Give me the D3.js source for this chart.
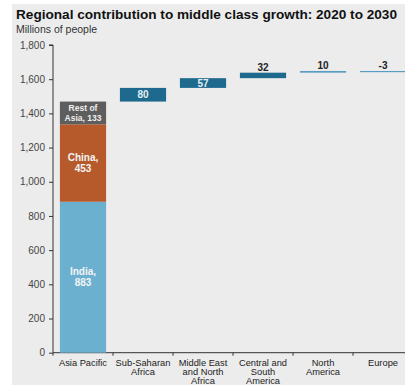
<!DOCTYPE html>
<html>
<head>
<meta charset="utf-8">
<script src="https://cdn.jsdelivr.net/npm/d3@7"></script>
<style>
  html, body { margin: 0; padding: 0; background: #fff; }
  svg { display: block; }
</style>
</head>
<body>
<svg id="chart" width="405" height="385"></svg>
<script>
// Regions along the x axis (multi-line labels)
const regions = ["Asia Pacific", "Sub-Saharan Africa", "Middle East and North Africa", "Central and South America", "North America", "Europe"];
const regionLines = [["Asia Pacific"], ["Sub-Saharan", "Africa"], ["Middle East", "and North", "Africa"], ["Central and", "South", "America"], ["North", "America"], ["Europe"]];

// Asia Pacific stacked components
const asiaParts = ["India", "China", "Rest of Asia"];
const asiaValues = [883, 453, 133];
const asiaLabels = [["India,", "883"], ["China,", "453"], ["Rest of", "Asia, 133"]];

// Increments for the remaining regions (waterfall)
const otherRegions = ["Sub-Saharan Africa", "Middle East and North Africa", "Central and South America", "North America", "Europe"];
const otherValues = [80, 57, 32, 10, -3];

const yTicks = [0, 200, 400, 600, 800, 1000, 1200, 1400, 1600, 1800];

const svg = d3.select("#chart");
const W = 405, H = 385;

// panel background
svg.append("rect").attr("x", 12).attr("y", 4).attr("width", W - 12).attr("height", H - 4).attr("fill", "#ececec");

const fontFamily = "Liberation Sans, Arial, sans-serif";

// Title and subtitle
svg.append("text")
  .attr("x", 16).attr("y", 19)
  .attr("font-family", fontFamily).attr("font-weight", "bold").attr("font-size", 13)
  .attr("fill", "#111")
  .attr("textLength", 381).attr("lengthAdjust", "spacingAndGlyphs")
  .text("Regional contribution to middle class growth: 2020 to 2030");
svg.append("text")
  .attr("x", 16).attr("y", 33)
  .attr("font-family", fontFamily).attr("font-size", 10.5)
  .attr("fill", "#333")
  .text("Millions of people");

const x0 = 53, xStep = 60;
const x = d3.scaleBand().domain(regions).range([x0, x0 + xStep * regions.length]).paddingInner(0.23).paddingOuter(0.115);
const y = d3.scaleLinear().domain([0, 1800]).range([352.7, 45]);

// y axis
const yAxis = svg.append("g").attr("transform", `translate(${x0},0)`)
  .call(d3.axisLeft(y).tickValues(yTicks).tickSize(4).tickPadding(4).tickFormat(d3.format(",")));
yAxis.select(".domain").attr("stroke", "#333").attr("d", `M-4,${y(1800)}H0V${y(0)}`);
yAxis.selectAll(".tick line").attr("stroke", "#333");
yAxis.selectAll(".tick text").attr("font-family", fontFamily).attr("font-size", 10).attr("fill", "#444");

// x axis
const xAxisG = svg.append("g").attr("transform", `translate(0,${y(0)})`);
xAxisG.append("line").attr("x1", x0).attr("x2", x0 + xStep * regions.length).attr("y1", 0).attr("y2", 0).attr("stroke", "#333");
xAxisG.selectAll("line.tk").data(d3.range(regions.length + 1)).join("line")
  .attr("class", "tk")
  .attr("x1", i => x0 + i * xStep).attr("x2", i => x0 + i * xStep)
  .attr("y1", 0).attr("y2", 3).attr("stroke", "#333");
regions.forEach((r, i) => {
  const t = xAxisG.append("text")
    .attr("x", x(r) + x.bandwidth() / 2)
    .attr("y", 13)
    .attr("text-anchor", "middle")
    .attr("font-family", fontFamily).attr("font-size", 9.3).attr("fill", "#222");
  regionLines[i].forEach((ln, j) => {
    t.append("tspan").attr("x", x(r) + x.bandwidth() / 2).attr("dy", j === 0 ? 0 : 9.3).text(ln);
  });
});

// Asia Pacific stacked bar
const asiaColors = ["#6cb0d0", "#b65a2b", "#5e5e5e"];
let cum = 0;
const asiaStack = asiaValues.map((v, i) => { const s = { name: asiaParts[i], v, y0: cum, y1: cum + v, c: asiaColors[i], label: asiaLabels[i] }; cum += v; return s; });
const asiaTotal = cum;

svg.append("g").selectAll("rect").data(asiaStack).join("rect")
  .attr("x", x("Asia Pacific")).attr("width", x.bandwidth())
  .attr("y", d => y(d.y1)).attr("height", d => y(d.y0) - y(d.y1))
  .attr("fill", d => d.c);

const labelSize = [10, 10, 8.5];
asiaStack.forEach((d, i) => {
  const cx = x("Asia Pacific") + x.bandwidth() / 2;
  const midY = (y(d.y0) + y(d.y1)) / 2;
  const lh = labelSize[i] + 1.5;
  const t = svg.append("text")
    .attr("text-anchor", "middle")
    .attr("font-family", fontFamily).attr("font-weight", "bold").attr("font-size", labelSize[i])
    .attr("fill", i === 2 ? "#f0f0f0" : "#f4f4f4");
  d.label.forEach((ln, j) => {
    t.append("tspan").attr("x", cx).attr("y", midY - lh / 2 + j * lh + labelSize[i] * 0.35).text(ln);
  });
});

// Waterfall bars for other regions
let run = asiaTotal;
const steps = otherValues.map((v, i) => { const s = { region: otherRegions[i], v, from: run, to: run + v }; run += v; return s; });
const barColor = "#1e6a8f";
const thinColor = "#5b9dc2";

steps.forEach(d => {
  const top = y(Math.max(d.from, d.to));
  const bot = y(Math.min(d.from, d.to));
  const h = Math.max(bot - top, 1.2);
  const small = Math.abs(d.v) < 20;
  svg.append("rect")
    .attr("x", x(d.region)).attr("width", x.bandwidth())
    .attr("y", top).attr("height", h)
    .attr("fill", small ? thinColor : barColor);
  const cx = x(d.region) + x.bandwidth() / 2;
  const inside = Math.abs(d.v) >= 50;
  svg.append("text")
    .attr("x", cx)
    .attr("y", inside ? (top + bot) / 2 + 3.5 : top - 2)
    .attr("text-anchor", "middle")
    .attr("font-family", fontFamily).attr("font-weight", "bold").attr("font-size", 10)
    .attr("fill", inside ? "#e8eef2" : "#222")
    .text(String(d.v));
});
</script>
</body>
</html>
